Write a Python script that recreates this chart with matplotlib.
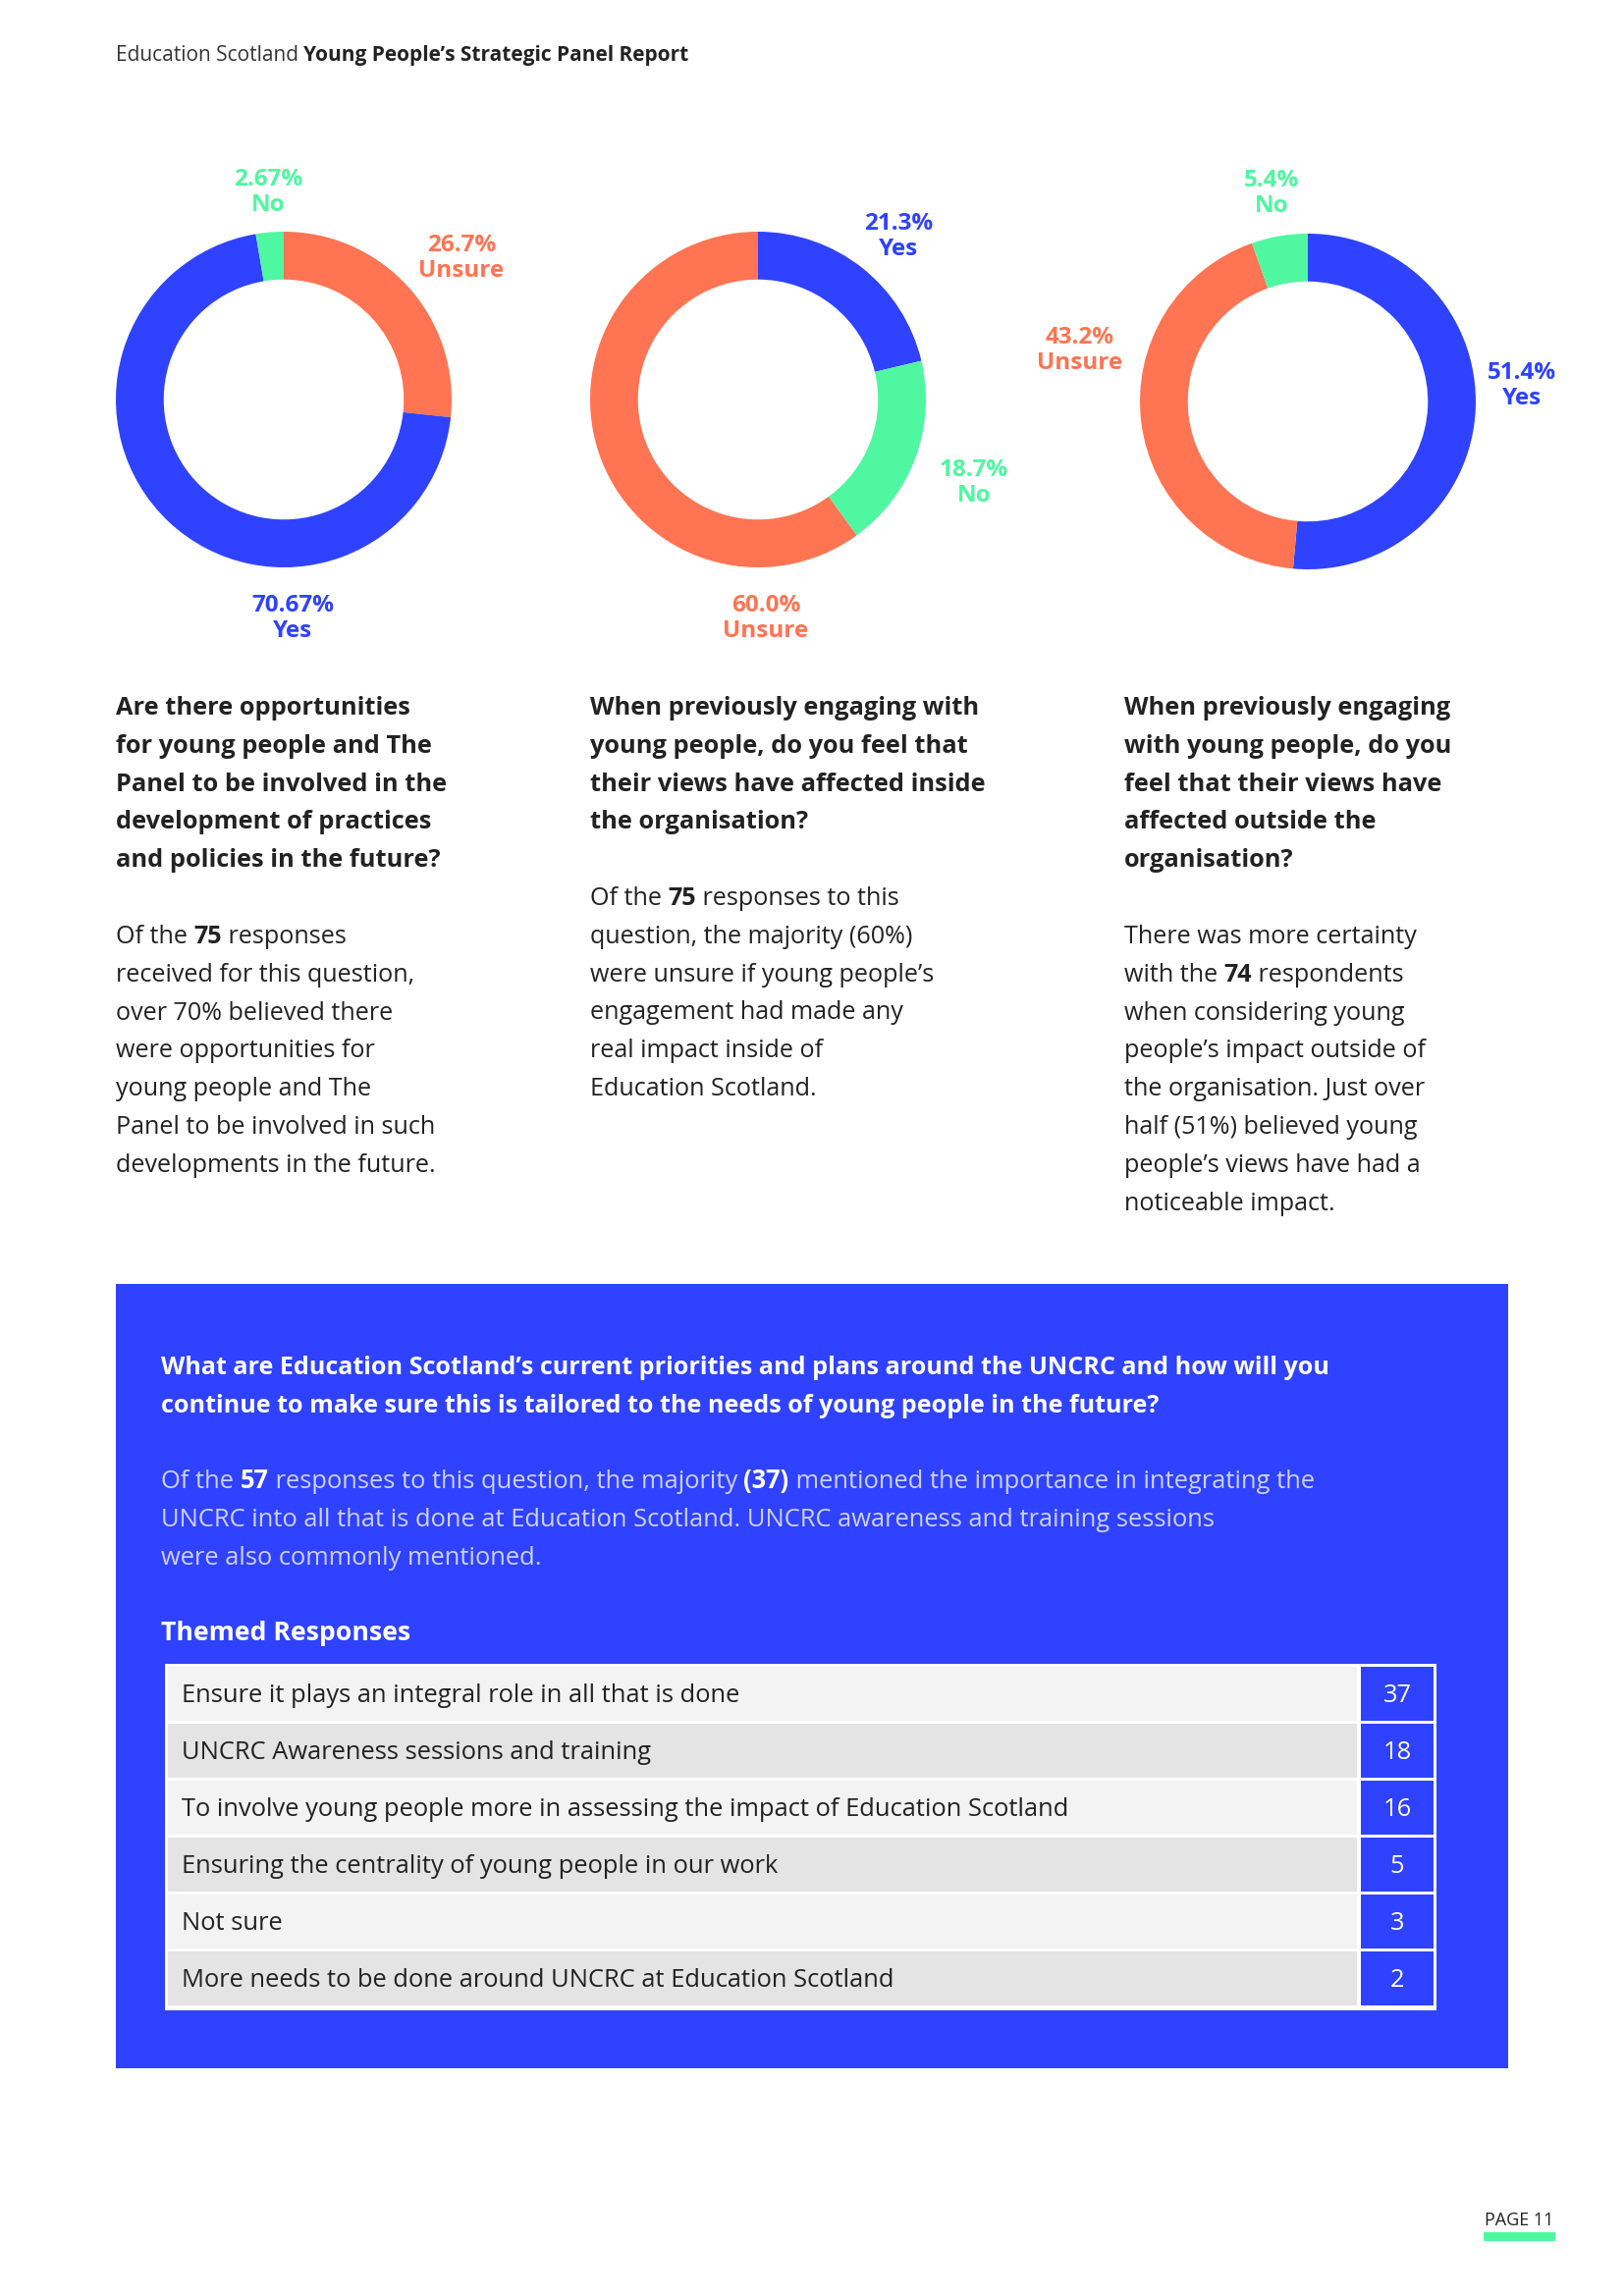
import matplotlib
matplotlib.use("Agg")
from matplotlib import pyplot as plt
from matplotlib.patches import Rectangle
from matplotlib.font_manager import FontProperties

W, H = 1654, 2339

BLUE = '#2f42ff'
ORANGE = '#ff7452'
GREEN = '#4ff7a0'
DARK = '#222222'
LILAC = '#cdd1ff'
FONT = ['Open Sans', 'DejaVu Sans']

plt.rcParams['font.family'] = FONT

# donut data (clockwise from 12 o'clock)
q1_names = ['Unsure', 'Yes', 'No']
q1_values = [26.7, 70.67, 2.67]
q1_pct = ['26.7%', '70.67%', '2.67%']
q1_colors = [ORANGE, BLUE, GREEN]

q2_names = ['Yes', 'No', 'Unsure']
q2_values = [21.3, 18.7, 60.0]
q2_pct = ['21.3%', '18.7%', '60.0%']
q2_colors = [BLUE, GREEN, ORANGE]

q3_names = ['Yes', 'Unsure', 'No']
q3_values = [51.4, 43.2, 5.4]
q3_pct = ['51.4%', '43.2%', '5.4%']
q3_colors = [BLUE, ORANGE, GREEN]

# themed responses table
themes = ["Ensure it plays an integral role in all that is done",
          "UNCRC Awareness sessions and training",
          "To involve young people more in assessing the impact of Education Scotland",
          "Ensuring the centrality of young people in our work",
          "Not sure",
          "More needs to be done around UNCRC at Education Scotland"]
counts = [37, 18, 16, 5, 3, 2]

# column texts
q1_question = ["Are there opportunities", "for young people and The", "Panel to be involved in the",
               "development of practices", "and policies in the future?"]
q1_body = ["Of the **75** responses", "received for this question,", "over 70% believed there",
           "were opportunities for", "young people and The", "Panel to be involved in such",
           "developments in the future."]
q2_question = ["When previously engaging with", "young people, do you feel that",
               "their views have affected inside", "the organisation?"]
q2_body = ["Of the **75** responses to this", "question, the majority (60%)",
           "were unsure if young people\u2019s", "engagement had made any",
           "real impact inside of", "Education Scotland."]
q3_question = ["When previously engaging", "with young people, do you", "feel that their views have",
               "affected outside the", "organisation?"]
q3_body = ["There was more certainty", "with the **74** respondents", "when considering young",
           "people\u2019s impact outside of", "the organisation. Just over", "half (51%) believed young",
           "people\u2019s views have had a", "noticeable impact."]

box_title = ["What are Education Scotland\u2019s current priorities and plans around the UNCRC and how will you",
             "continue to make sure this is tailored to the needs of young people in the future?"]
box_body = ["Of the **57** responses to this question, the majority **(37)** mentioned the importance in integrating the",
            "UNCRC into all that is done at Education Scotland. UNCRC awareness and training sessions",
            "were also commonly mentioned."]

fig = plt.figure(figsize=(W / 100, H / 100), dpi=100)
fig.patch.set_facecolor('white')
ax = fig.add_axes([0, 0, 1, 1])
ax.set_xlim(0, W)
ax.set_ylim(H, 0)
ax.axis('off')
renderer = fig.canvas.get_renderer()


def width_of(s, size, bold):
    # measure advance incl. spaces with X padding
    fp = FontProperties(family=FONT, size=size, weight='bold' if bold else 'normal')
    w1 = renderer.get_text_width_height_descent('X' + s + 'X', fp, ismath=False)[0]
    w0 = renderer.get_text_width_height_descent('XX', fp, ismath=False)[0]
    return w1 - w0


def write_line(x, y, s, size, color, bold_color=None, bold=False):
    parts = s.split('**')
    for i, p in enumerate(parts):
        if p == '':
            continue
        b = bold or (i % 2 == 1)
        c = bold_color if (i % 2 == 1 and bold_color) else color
        ax.text(x, y, p, fontsize=size, color=c, fontweight='bold' if b else 'normal',
                va='baseline', ha='left')
        x += width_of(p, size, b)


def write_block(x, y0, lines, size, color, step, bold=False, bold_color=None):
    for i, s in enumerate(lines):
        write_line(x, y0 + i * step, s, size, color, bold_color, bold)


# header
write_line(118, 62, "Education Scotland ", 15, '#333333')
write_line(118 + width_of("Education Scotland ", 15, False), 62,
           "Young People\u2019s Strategic Panel Report", 15, DARK, bold=True)

# donuts
R = 171
donuts = [
    (289, 407, q1_values, q1_colors, q1_names, q1_pct, [(470, 263), (298, 630), (273, 196)]),
    (772, 407, q2_values, q2_colors, q2_names, q2_pct, [(915, 241), (992, 492), (780, 630)]),
    (1332, 409, q3_values, q3_colors, q3_names, q3_pct, [(1550, 393), (1100, 357), (1295, 197)]),
]
for cx, cy, vals, cols, names, pct_list, lpos in donuts:
    axd = fig.add_axes([(cx - R) / W, 1 - (cy + R) / H, 2 * R / W, 2 * R / H])
    axd.pie(vals, colors=cols, startangle=90, counterclock=False, radius=1,
            wedgeprops=dict(width=0.285, edgecolor='none'))
    axd.set_xlim(-1, 1)
    axd.set_ylim(-1, 1)
    axd.axis('off')
    for name, pct, col, (lx, ly) in zip(names, pct_list, cols, lpos):
        ax.text(lx, ly, pct + '\n' + name, fontsize=17.5, color=col, fontweight='bold',
                ha='center', va='center', linespacing=1.1)

# column text
STEP = 38.8
write_block(118, 728, q1_question, 18.3, DARK, STEP, bold=True)
write_block(118, 961, q1_body, 18.1, DARK, STEP)
write_block(601, 728, q2_question, 18.3, DARK, STEP, bold=True)
write_block(601, 922, q2_body, 18.1, DARK, STEP)
write_block(1145, 728, q3_question, 18.3, DARK, STEP, bold=True)
write_block(1145, 961, q3_body, 18.1, DARK, STEP)

# blue box
ax.add_patch(Rectangle((118, 1308), 1418, 799, facecolor=BLUE, edgecolor='none'))
write_block(164, 1400, box_title, 18.1, 'white', STEP, bold=True)
write_block(164, 1516, box_body, 18.4, LILAC, STEP, bold_color='white')
write_line(164, 1671, "Themed Responses", 19.2, 'white', bold=True)

# table
tx0, tx1, ty0 = 168, 1463, 1695
row_h = 58
ax.add_patch(Rectangle((tx0, ty0), tx1 - tx0, row_h * len(themes) + 5, facecolor='white', edgecolor='none'))
for i, (theme, n) in enumerate(zip(themes, counts)):
    top = ty0 + 3 + i * row_h
    ax.add_patch(Rectangle((tx0 + 3, top), 1382 - tx0 - 3, row_h - 3,
                           facecolor='#f3f3f3' if i % 2 == 0 else '#e4e4e4', edgecolor='none'))
    ax.add_patch(Rectangle((1386, top), tx1 - 3 - 1386, row_h - 3, facecolor=BLUE, edgecolor='none'))
    ax.text(185, top + (row_h - 3) / 2 + 8, theme, fontsize=18.4, color=DARK, va='baseline', ha='left')
    ax.text(1423, top + (row_h - 3) / 2 + 8, str(n), fontsize=18.4, color='white', va='baseline', ha='center')

# page number
ax.text(1547, 2267, "PAGE 11", fontsize=13, color=DARK, ha='center', va='baseline')
ax.add_patch(Rectangle((1511, 2274), 73, 9, facecolor=GREEN, edgecolor='none'))

fig.savefig('out.png', dpi=100)
